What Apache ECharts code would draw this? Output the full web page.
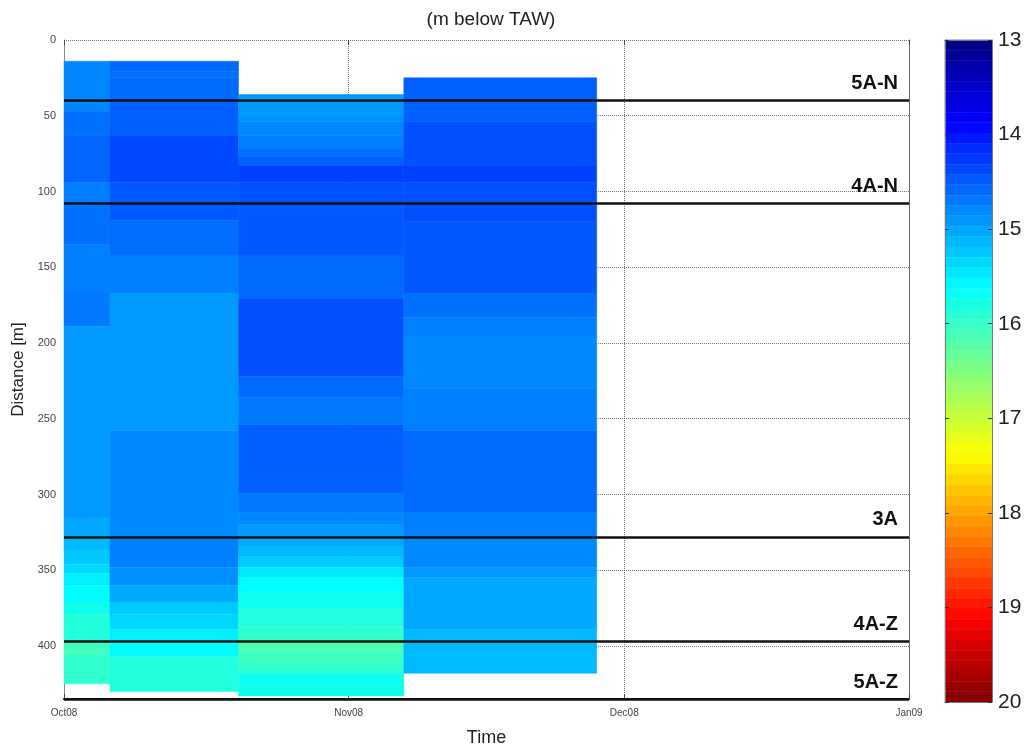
<!DOCTYPE html>
<html>
<head>
<meta charset="utf-8">
<title>(m below TAW)</title>
<script src="https://cdn.jsdelivr.net/npm/echarts@6.0.0/dist/echarts.min.js"></script>
<style>
html, body { margin: 0; padding: 0; background: #fff; }
#chart { width: 1027px; height: 744px; }
</style>
</head>
<body>
<div id="chart"></div>
<script>
// survey periods (one column each)
var colStart = ['2008-10-01', '2008-10-06', '2008-10-20', '2008-11-07'];
var colEnd = ['2008-10-06', '2008-10-20', '2008-11-07', '2008-11-28'];

// band edges along the quay [m] and level in each band (m below TAW)
var col1Edges = [14, 47, 63, 94, 107, 135, 167, 189, 316, 329, 337, 346, 352, 360, 371, 379, 396, 407, 425];
var col1Levels = [14.8, 14.65, 14.57, 14.72, 14.65, 14.75, 14.7, 14.92, 15.03, 15.14, 15.25, 15.36, 15.52, 15.62, 15.74, 15.85, 16.06, 15.95];

var col2Edges = [14, 21, 25, 40, 63, 94, 119, 142, 167, 258, 329, 348, 360, 371, 379, 389, 396, 407, 430];
var col2Levels = [14.59, 14.64, 14.59, 14.53, 14.37, 14.48, 14.62, 14.75, 14.92, 14.81, 14.75, 14.86, 15.03, 15.25, 15.36, 15.52, 15.62, 15.85];

var col3Edges = [36, 50, 54, 63, 72, 77, 83, 94, 107, 142, 171, 222, 236, 254, 299, 312, 320, 329, 334, 341, 348, 355, 365, 376, 387, 396, 403, 411, 418, 433];
var col3Levels = [14.92, 14.86, 14.81, 14.75, 14.64, 14.53, 14.31, 14.42, 14.48, 14.59, 14.42, 14.59, 14.7, 14.53, 14.7, 14.81, 14.92, 15.03, 15.14, 15.25, 15.47, 15.62, 15.74, 15.85, 15.95, 16.17, 16.06, 15.95, 15.74];

var col4Edges = [25, 54, 83, 94, 120, 167, 183, 196, 230, 258, 312, 329, 348, 355, 389, 418];
var col4Levels = [14.53, 14.42, 14.31, 14.42, 14.48, 14.64, 14.75, 14.81, 14.75, 14.59, 14.75, 14.81, 14.92, 15.03, 15.14];

// quay sections
var layerNames = ['5A-N', '4A-N', '3A', '4A-Z', '5A-Z'];
var layerDepths = [40, 108, 328, 397, 435];

var monthNames = ['Jan', 'Feb', 'Mar', 'Apr', 'May', 'Jun', 'Jul', 'Aug', 'Sep', 'Oct', 'Nov', 'Dec'];
var jet = ['#000080', '#0000ff', '#0080ff', '#00ffff', '#80ff80', '#ffff00', '#ff8000', '#ff0000', '#800000'];
var cMin = 13, cMax = 20, cSteps = 64;

function toTime(s) {
	var p = s.split('-');
	return new Date(+p[0], +p[1] - 1, +p[2]).getTime();
}

var tMin = toTime('2008-10-01');
var tMax = toTime('2009-01-01');

var columns = [[col1Edges, col1Levels], [col2Edges, col2Levels], [col3Edges, col3Levels], [col4Edges, col4Levels]];
var cells = [];
for (var i = 0; i < columns.length; i++) {
	var t0 = toTime(colStart[i]), t1 = toTime(colEnd[i]);
	var edges = columns[i][0], levels = columns[i][1];
	for (var k = 0; k < levels.length; k++) {
		cells.push([t0, t1, edges[k], edges[k + 1], levels[k]]);
	}
}

// colour bar: 64 flat steps like the matlab colormap
var barSteps = [];
for (var s = 0; s < cSteps; s++) {
	var lo = cMin + (cMax - cMin) * s / cSteps;
	var hi = cMin + (cMax - cMin) * (s + 1) / cSteps;
	barSteps.push([0, 1, lo, hi, (lo + hi) / 2]);
}

var font = 'Arial, "Liberation Sans", Helvetica, sans-serif';

function fmtMonth(v) {
	var d = new Date(v);
	return monthNames[d.getMonth()] + String(d.getFullYear()).slice(2);
}

function renderBand(params, api) {
	var p0 = api.coord([api.value(0), api.value(2)]);
	var p1 = api.coord([api.value(1), api.value(3)]);
	var c = api.visual('color');
	return {
		type: 'rect',
		shape: { x: p0[0], y: p0[1], width: p1[0] - p0[0], height: p1[1] - p0[1] },
		style: { fill: c, stroke: c, lineWidth: 0.5 }
	};
}

var chart = echarts.init(document.getElementById('chart'));

var option = {
	backgroundColor: '#fff',
	animation: false,
	textStyle: { fontFamily: font },
	title: {
		text: '(m below TAW)',
		left: 486,
		top: 5,
		textAlign: 'center',
		textStyle: { fontSize: 19, fontWeight: 'normal', color: '#222', fontFamily: font }
	},
	grid: [
		{ left: 64, top: 40, right: 118, bottom: 45, outerBoundsMode: 'none', containLabel: false },
		{ left: 945, top: 40, width: 47, height: 662, outerBoundsMode: 'none', containLabel: false }
	],
	xAxis: [
		{
			type: 'time', gridIndex: 0, min: tMin, max: tMax, splitNumber: 3,
			name: 'Time', nameLocation: 'middle', nameGap: 30,
			nameTextStyle: { fontSize: 18, color: '#222', fontFamily: font },
			axisLine: { onZero: false, lineStyle: { color: '#111', width: 2 } },
			axisTick: { inside: true, length: 5, lineStyle: { color: '#444' } },
			axisLabel: { fontSize: 10, color: '#444', margin: 9, formatter: fmtMonth, showMinLabel: true, showMaxLabel: true, hideOverlap: false },
			splitLine: { show: true, lineStyle: { type: 'dotted', color: '#777' } }
		},
		{
			type: 'time', gridIndex: 0, position: 'top', min: tMin, max: tMax, splitNumber: 3,
			axisLine: { show: false, onZero: false },
			axisTick: { inside: true, length: 5, lineStyle: { color: '#444' } },
			axisLabel: { show: false },
			splitLine: { show: false }
		},
		{
			type: 'value', gridIndex: 1, min: 0, max: 1, z: 5,
			axisLine: { onZero: false, lineStyle: { color: '#777' } },
			axisTick: { show: false }, axisLabel: { show: false }, splitLine: { show: false }
		},
		{
			type: 'value', gridIndex: 1, position: 'top', min: 0, max: 1, z: 5,
			axisLine: { onZero: false, lineStyle: { color: '#777' } },
			axisTick: { show: false }, axisLabel: { show: false }, splitLine: { show: false }
		}
	],
	yAxis: [
		{
			type: 'value', gridIndex: 0, inverse: true, min: 0, max: 435, interval: 50,
			name: 'Distance [m]', nameLocation: 'middle', nameGap: 35, nameRotate: 90,
			nameTextStyle: { fontSize: 17, color: '#222', fontFamily: font },
			axisLine: { show: true, onZero: false, lineStyle: { color: '#888' } },
			axisTick: { inside: true, length: 5, lineStyle: { color: '#444' } },
			axisLabel: { fontSize: 11, color: '#444', margin: 8, showMaxLabel: false },
			splitLine: { show: true, lineStyle: { type: 'dotted', color: '#777' } }
		},
		{
			type: 'value', gridIndex: 0, position: 'right', inverse: true, min: 0, max: 435, interval: 50,
			axisLine: { show: true, onZero: false, lineStyle: { color: '#666' } },
			axisTick: { inside: true, length: 5, lineStyle: { color: '#444' } },
			axisLabel: { show: false },
			splitLine: { show: false }
		},
		{
			type: 'value', gridIndex: 1, position: 'right', inverse: true, min: cMin, max: cMax, interval: 1, z: 5,
			axisLine: { show: true, onZero: false, lineStyle: { color: '#777' } },
			axisTick: { inside: true, length: 4, lineStyle: { color: '#333' } },
			axisLabel: { fontSize: 21, color: '#222', margin: 6, showMinLabel: true, showMaxLabel: true },
			splitLine: { show: false }
		},
		{
			type: 'value', gridIndex: 1, position: 'left', inverse: true, min: cMin, max: cMax, interval: 1, z: 5,
			axisLine: { show: true, onZero: false, lineStyle: { color: '#777' } },
			axisTick: { inside: true, length: 4, lineStyle: { color: '#333' } },
			axisLabel: { show: false },
			splitLine: { show: false }
		}
	],
	visualMap: {
		type: 'continuous',
		show: false,
		min: cMin,
		max: cMax,
		dimension: 4,
		seriesIndex: [0, 2],
		inRange: { color: jet }
	},
	series: [
		{
			type: 'custom',
			xAxisIndex: 0,
			yAxisIndex: 0,
			encode: { x: [0, 1], y: [2, 3] },
			renderItem: renderBand,
			data: cells
		},
		{
			type: 'line',
			xAxisIndex: 0,
			yAxisIndex: 0,
			z: 5,
			data: [],
			markLine: {
				silent: true,
				symbol: ['none', 'none'],
				animation: false,
				lineStyle: { color: '#111', width: 2.5, type: 'solid' },
				label: {
					show: true,
					position: 'insideEndTop',
					formatter: '{b}',
					fontSize: 20,
					fontWeight: 'bold',
					color: '#111',
					fontFamily: font,
					distance: [11, 7]
				},
				data: layerDepths.map(function (d, i) {
					return { name: layerNames[i], yAxis: d };
				})
			}
		},
		{
			type: 'custom',
			xAxisIndex: 2,
			yAxisIndex: 2,
			z: 1,
			silent: true,
			encode: { x: [0, 1], y: [2, 3] },
			renderItem: renderBand,
			data: barSteps
		}
	]
};

chart.setOption(option);
</script>
</body>
</html>
